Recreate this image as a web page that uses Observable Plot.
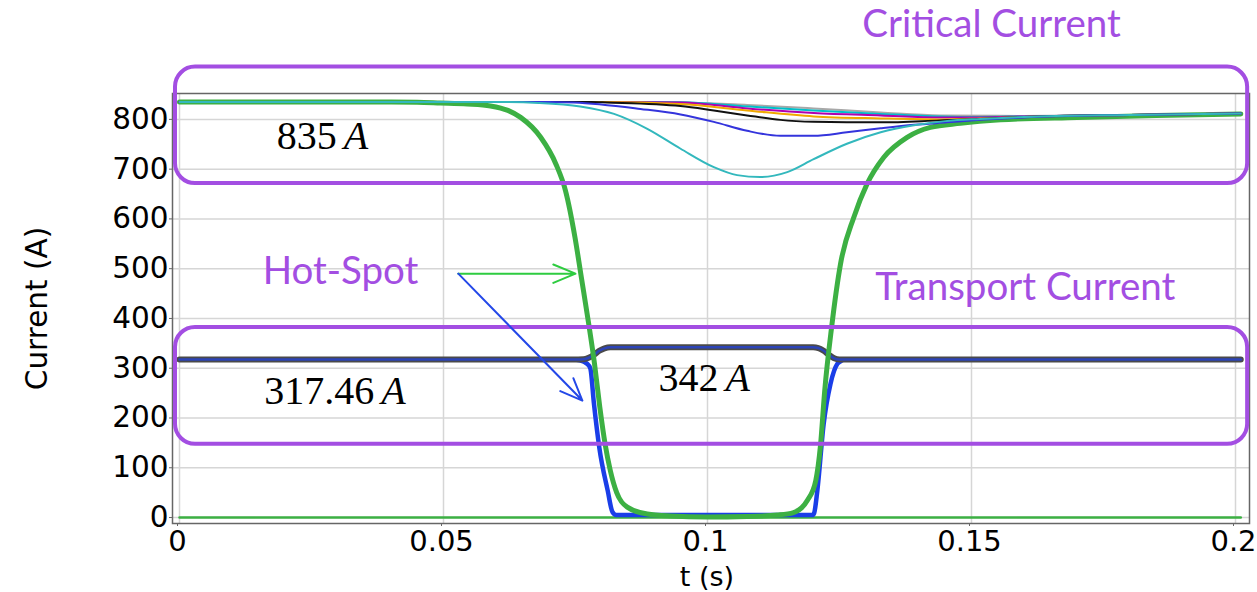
<!DOCTYPE html>
<html><head><meta charset="utf-8">
<script src="https://cdn.jsdelivr.net/npm/d3@7"></script>
<script src="https://cdn.jsdelivr.net/npm/@observablehq/plot@0.6"></script>
<style>body{margin:0;background:#fff}#chart svg{display:block}</style>
</head><body><div id="chart"></div>
<script>
// ---- data ----
const xTicks = [0, 0.05, 0.1, 0.15, 0.2];
const yTicks = [0, 100, 200, 300, 400, 500, 600, 700, 800];

// critical current of the hot spot (thick green)
const hotCritical = [[0,835],[0.03,835],[0.045,834.5],[0.0494,833],[0.0545,831],[0.0589,827],[0.0622,818],[0.0646,804],[0.0684,764],[0.0713,710],[0.0731,657],[0.0749,563],[0.0761,483],[0.0775,389],[0.0786,309],[0.0796,222],[0.0806,148],[0.0816,94],[0.0828,50],[0.0848,21],[0.0886,7],[0.093,3],[0.1,1],[0.1075,2],[0.1132,5],[0.1163,10],[0.1189,34],[0.1205,74],[0.1214,145],[0.1222,255],[0.1235,382],[0.1252,510],[0.1277,603],[0.1302,670],[0.1334,724],[0.1378,764],[0.1422,784],[0.1479,792],[0.1555,799],[0.17,804],[0.185,808],[0.201,811]];
// critical currents of the other tapes (thin)
const critTeal = [[0,835],[0.06,835],[0.068,833],[0.0759,826],[0.0823,811],[0.0886,781],[0.0949,741],[0.1012,704],[0.1056,688],[0.11,684],[0.1151,694],[0.1201,720],[0.1264,751],[0.1328,774],[0.1391,788],[0.1454,797],[0.1517,801],[0.16,805],[0.18,809],[0.201,812]];
const critBlue = [[0,835],[0.07,835],[0.0747,834],[0.0873,821],[0.0949,810],[0.1012,795],[0.1075,777],[0.1138,767],[0.1201,767],[0.1264,774],[0.1328,782],[0.1391,789],[0.1454,794],[0.1517,799],[0.16,804],[0.18,809],[0.201,812]];
const critBlack = [[0,835],[0.078,835],[0.081,834],[0.0949,827],[0.1012,818],[0.1075,808],[0.1138,799],[0.1201,795],[0.1264,794],[0.1328,794],[0.1441,798],[0.1517,801],[0.16,805],[0.18,809],[0.201,812]];
const critOrange = [[0,835],[0.08,835],[0.0949,831],[0.1075,818],[0.1201,806],[0.1328,802],[0.1441,800],[0.1517,802],[0.16,805],[0.18,809],[0.201,812]];
const critMagenta = [[0,835],[0.08,835],[0.0949,834],[0.1075,822],[0.1201,813],[0.1328,808],[0.1441,804],[0.1517,804],[0.16,806],[0.18,809],[0.201,812]];
const critCyan = [[0,835],[0.085,835],[0.0949,834.5],[0.1075,826],[0.1201,818],[0.1328,811],[0.1441,806],[0.1517,805],[0.16,806],[0.18,809],[0.201,812]];
const critGray = [[0,835],[0.09,835],[0.1075,829],[0.1201,822],[0.1328,814],[0.1441,808],[0.16,807],[0.18,809],[0.201,812]];
// transport currents
const transportOthers = [[0,317.46],[0.0755,317.46],[0.0765,317.8],[0.0775,321],[0.0785,327],[0.0795,335],[0.0805,340],[0.0816,342],[0.12,342],[0.121,340.5],[0.122,335],[0.123,327],[0.124,320],[0.125,317.6],[0.1258,317.46],[0.201,317.46]];
const transportHot = [[0,317.46],[0.0745,317.46],[0.0758,316],[0.0772,309],[0.0778,300],[0.0785,228],[0.0795,141],[0.0811,54],[0.082,11],[0.0827,5],[0.1,5],[0.1199,5],[0.1202,9],[0.1208,54],[0.122,188],[0.1233,269],[0.1246,309],[0.1252,314],[0.126,317.46],[0.201,317.46]];
const zeroLine = [[0,0],[0.201,0]];

const boxes = [
  {t1:-0.00076, t2:0.2023, v1:905, v2:671},
  {t1:-0.00076, t2:0.2023, v1:382, v2:147}
];
const notes = [
  {text:"Critical Current", t:0.1538, v:990},
  {text:"Hot-Spot", t:0.0305, v:494},
  {text:"Transport Current", t:0.1602, v:462}
];
const values = [
  {num:"835", t:0.0298, v:767},
  {num:"317.46", t:0.0369, v:254},
  {num:"342", t:0.1021, v:280}
];
const greenArrow = [{t1:0.0528, v1:490, t2:0.075, v2:490}];
const blueArrow = [{t1:0.0528, v1:490, t2:0.0763, v2:235}];

// ---- chart ----
const pts = a => a.map(([t, v]) => ({t, v}));
const purple = "#a34ee2";
const line = (a, stroke, w) => Plot.line(pts(a), {x:"t", y:"v", stroke, strokeWidth:w, curve:"monotone-x"});

const chart = Plot.plot({
  width: 1257, height: 592,
  marginLeft: 172, marginRight: 8, marginTop: 93, marginBottom: 69,
  style: {fontFamily: "DejaVu Sans", fontSize: "29px", color: "#000", background: "#fff"},
  x: {domain: [-0.001326, 0.20265]},
  y: {domain: [-12, 852]},
  marks: [
    Plot.gridX(xTicks, {stroke:"#d6d6d6", strokeOpacity:1, strokeWidth:1.5}),
    Plot.gridY(yTicks, {stroke:"#d6d6d6", strokeOpacity:1, strokeWidth:1.5}),
    Plot.frame({stroke:"#666", strokeWidth:1.5}),
    Plot.axisX({ticks: xTicks, tickFormat: d => String(d), tickSize: 3, tickPadding: 4, label: null, stroke:"#666", fontSize: 29, dx: -2}),
    Plot.axisY({ticks: yTicks, tickSize: 3, tickPadding: 1, label: null, stroke:"#666", fontSize: 29.5}),
    Plot.text(["t (s)"], {frameAnchor:"bottom", textAnchor:"middle", lineAnchor:"middle", dy:53.5, dx:-4, fontSize:27}),
    Plot.text(["Current (A)"], {frameAnchor:"left", textAnchor:"middle", lineAnchor:"middle", dx:-135, rotate:-90, fontSize:29.5}),
    line(zeroLine, "#3cb043", 2.5),
    line(transportHot, "#1a3ee8", 4.5),
    line(transportOthers, "#4a4a4a", 6),
    line(transportOthers, "#2c44b8", 2.5),
    line(hotCritical, "#3cb043", 5),
    line(critGray, "#a8a8a8", 2),
    line(critCyan, "#00bfc9", 2),
    line(critMagenta, "#b000b0", 2),
    line(critOrange, "#f0a800", 2),
    line(critBlack, "#111111", 2),
    line(critBlue, "#3434dc", 2),
    line(critTeal, "#33b8bd", 2),
    Plot.rect(boxes, {x1:"t1", x2:"t2", y1:"v1", y2:"v2", stroke:purple, strokeWidth:4, fill:"none", rx:20}),
    Plot.arrow(greenArrow, {x1:"t1", y1:"v1", x2:"t2", y2:"v2", stroke:"#2ecc40", strokeWidth:2, headLength:18, headAngle:45}),
    Plot.arrow(blueArrow, {x1:"t1", y1:"v1", x2:"t2", y2:"v2", stroke:"#2448e8", strokeWidth:2, headLength:18, headAngle:45}),
    Plot.text(notes, {x:"t", y:"v", text:"text", fill:purple, fontSize:38.5, fontFamily:"Lato"}),
    Plot.text(values, {x:"t", y:"v", text:"num", textAnchor:"end", fontSize:40, fontFamily:"Liberation Serif"}),
    Plot.text(values, {x:"t", y:"v", text:() => "A", textAnchor:"start", dx:7, fontSize:40, fontStyle:"italic", fontFamily:"Liberation Serif"})
  ]
});
document.getElementById("chart").append(chart);
</script></body></html>
